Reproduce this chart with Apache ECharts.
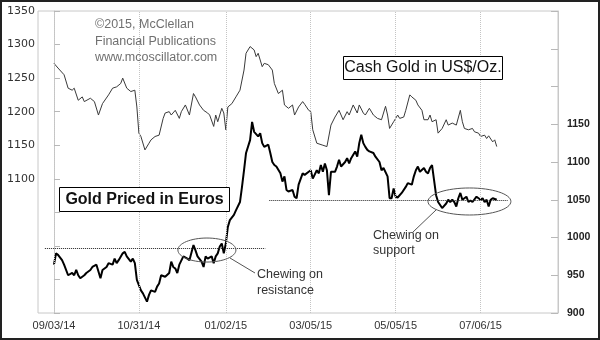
<!DOCTYPE html>
<html><head><meta charset="utf-8">
<script src="https://cdn.jsdelivr.net/npm/echarts@6/dist/echarts.min.js"></script>
<style>html,body{margin:0;padding:0;background:#fff}#c{width:600px;height:340px}</style>
</head><body><div id="c"></div>
<script>
// x = trading-day index counted from 09/03/14
const tickDays = [0, 42, 85, 127, 169, 211];
const tickLabels = ['09/03/14', '10/31/14', '01/02/15', '03/05/15', '05/05/15', '07/06/15'];

// Cash gold, US$/oz (left axis)
const usdDays = [0,2,5,7,9,10,12,14,15,18,20,22,24,27,29,31,33,34,36,38,40,41,42,43,45,47,48,50,52,54,55,57,58,60,62,63,65,67,69,70,72,74,76,77,79,80,81,83,84,85,86,88,90,92,94,95,97,99,100,101,103,104,106,108,109,111,113,114,116,118,119,121,123,124,126,127,128,130,133,135,137,139,141,143,145,146,148,150,151,153,154,156,158,160,162,164,165,166,168,170,171,173,174,176,177,179,180,182,183,185,186,187,189,190,192,194,195,197,199,201,202,203,205,207,208,210,211,213,214,215,217,218,219];
const usdPrices = [1272,1265,1255,1235,1232,1235,1217,1222,1215,1220,1215,1195,1212,1225,1235,1237,1242,1250,1235,1230,1232,1207,1168,1163,1143,1153,1158,1163,1165,1190,1198,1200,1195,1202,1190,1200,1210,1195,1227,1222,1210,1202,1198,1195,1178,1195,1185,1205,1198,1173,1207,1212,1222,1232,1262,1287,1297,1292,1282,1287,1267,1272,1270,1262,1242,1227,1232,1210,1205,1210,1195,1207,1215,1211,1202,1200,1173,1153,1150,1148,1180,1192,1202,1188,1200,1195,1210,1198,1210,1198,1195,1205,1195,1190,1188,1208,1195,1175,1185,1195,1190,1192,1202,1225,1222,1217,1210,1202,1188,1188,1195,1185,1188,1168,1175,1188,1180,1183,1180,1202,1185,1175,1173,1175,1170,1168,1163,1165,1160,1164,1155,1158,1148];

// Gold priced in euros (right axis)
const eurDays = [0,1,2,4,5,7,9,10,11,12,13,15,16,18,19,21,22,23,24,26,27,29,30,31,32,34,35,36,38,39,40,41,43,44,46,47,48,50,51,52,53,55,57,58,59,60,61,62,64,66,67,69,70,71,73,74,75,76,78,79,80,81,82,83,84,85,86,87,89,90,92,93,94,95,97,98,99,101,102,103,104,106,107,108,109,110,112,113,114,115,116,118,119,120,121,123,124,126,127,128,130,131,132,133,134,135,136,137,139,140,141,142,144,145,146,147,149,150,151,152,153,154,155,156,158,159,161,162,163,165,166,167,168,169,170,172,174,175,177,178,179,180,181,183,184,185,186,187,188,189,190,191,192,194,195,196,197,198,199,200,201,202,204,205,206,207,209,210,211,212,213,214,215,216,217,219];
const eurPrices = [964,979,977,970,964,950,953,950,957,950,946,950,953,957,961,964,955,946,957,961,966,964,972,966,970,979,981,975,968,972,966,944,930,926,915,924,930,928,935,939,950,948,953,968,961,959,953,964,975,972,970,990,983,975,968,961,975,972,975,966,975,979,988,992,979,992,1014,1023,1030,1036,1047,1067,1089,1112,1129,1153,1140,1134,1138,1125,1120,1123,1112,1100,1096,1094,1085,1074,1081,1063,1061,1063,1054,1052,1070,1085,1083,1087,1089,1078,1089,1085,1096,1087,1098,1089,1056,1087,1087,1094,1103,1094,1100,1105,1098,1105,1114,1107,1125,1136,1125,1120,1116,1114,1112,1107,1100,1089,1092,1081,1052,1052,1065,1054,1053,1059,1067,1072,1070,1081,1089,1094,1087,1092,1087,1085,1092,1096,1076,1056,1047,1043,1039,1045,1050,1047,1050,1047,1041,1052,1059,1050,1054,1047,1049,1047,1054,1052,1050,1052,1047,1050,1041,1050,1052,1050];

// annotation levels (euro scale)
const resistanceLevel = 986, resistanceSpan = [-4.5, 104.5];
const supportLevel = 1050, supportSpan = [106.5, 224.5];
const resistanceBox = [61.3, 90, 967.5, 999.3];   // day min/max, value min/max
const supportBox = [185, 226, 1029.8, 1065.6];

const FONT = 'Liberation Sans';
const chart = echarts.init(document.getElementById('c'), null, {renderer: 'canvas'});

function pairs(d, v) { return d.map((x, i) => [x, v[i]]); }

const option = {
  animation: false,
  backgroundColor: '#fff',
  grid: {left: 38, right: 42, top: 11, bottom: 27, show: true, borderColor: '#c8c8c8', borderWidth: 1, outerBoundsMode: 'none'},
  xAxis: {
    type: 'value', min: -7.9, max: 249.3,
    axisLine: {show: false},
    axisTick: {show: false},
    splitLine: {show: false},
    axisLabel: {
      customValues: tickDays,
      formatter: v => { const i = tickDays.indexOf(Math.round(v)); return i >= 0 ? tickLabels[i] : ''; },
      fontFamily: FONT, fontSize: 11, color: '#333', margin: 7
    }
  },
  yAxis: [
    {
      type: 'value', position: 'left', min: 900, max: 1350, interval: 50,
      axisLine: {show: true, lineStyle: {color: '#c8c8c8'}},
      axisTick: {show: true, inside: true, length: 6, lineStyle: {color: '#b8b8b8'}},
      splitLine: {show: false},
      axisLabel: {formatter: v => v >= 1100 ? String(v) : '', fontFamily: 'DejaVu Sans', fontSize: 11, color: '#333', margin: 3}
    },
    {
      type: 'value', position: 'right', min: 900, max: 1300, interval: 50,
      axisLine: {show: true, lineStyle: {color: '#c8c8c8'}},
      axisTick: {show: true, inside: true, length: 7, lineStyle: {color: '#b8b8b8'}},
      splitLine: {show: false},
      axisLabel: {formatter: v => v <= 1150 ? String(v) : '', fontFamily: FONT, fontSize: 10.5, fontWeight: 'bold', color: '#222', margin: 9}
    }
  ],
  series: [
    {
      type: 'line', data: [], yAxisIndex: 0, z: 1, silent: true,
      markLine: {
        silent: true, symbol: ['none', 'none'], label: {show: false},
        lineStyle: {type: 'dotted', color: '#c4c4c4', width: 1},
        data: tickDays.map(d => ({xAxis: d}))
      }
    },
    {
      name: 'USD', type: 'line', yAxisIndex: 0, data: pairs(usdDays, usdPrices),
      showSymbol: false, symbol: 'none', z: 3,
      lineStyle: {color: '#3a3a3a', width: 1}
    },
    {
      name: 'EUR', type: 'line', yAxisIndex: 1, data: pairs(eurDays, eurPrices),
      showSymbol: false, symbol: 'none', z: 4,
      lineStyle: {color: '#000', width: 2},
      markLine: {
        silent: true, symbol: ['none', 'none'], label: {show: false},
        lineStyle: {type: 'dotted', color: '#222', width: 1},
        data: [
          [{coord: [resistanceSpan[0], resistanceLevel]}, {coord: [resistanceSpan[1], resistanceLevel]}],
          [{coord: [supportSpan[0], supportLevel]}, {coord: [supportSpan[1], supportLevel]}]
        ]
      }
    }
  ]
};
chart.setOption(option);

function ell(box) {
  const p1 = chart.convertToPixel({xAxisIndex: 0, yAxisIndex: 1}, [box[0], box[2]]);
  const p2 = chart.convertToPixel({xAxisIndex: 0, yAxisIndex: 1}, [box[1], box[3]]);
  return {cx: (p1[0] + p2[0]) / 2, cy: (p1[1] + p2[1]) / 2, rx: Math.abs(p2[0] - p1[0]) / 2, ry: Math.abs(p2[1] - p1[1]) / 2};
}
const txt = (x, y, text, font, fill, align) => ({type: 'text', x, y, z: 100, style: {text, font, fill, align: align || 'left', verticalAlign: 'middle'}});

chart.setOption({
  graphic: [
    {type: 'rect', z: 100, shape: {x: 1, y: 1, width: 598, height: 338}, style: {fill: 'none', stroke: '#222', lineWidth: 2}},
    txt(95, 25, '\u00a92015, McClellan', '12.5px ' + FONT, '#707070'),
    txt(95, 42, 'Financial Publications', '12.5px ' + FONT, '#707070'),
    txt(95, 58, 'www.mcoscillator.com', '12.5px ' + FONT, '#707070'),
    {type: 'rect', z: 100, shape: {x: 343.5, y: 56.5, width: 159, height: 23}, style: {fill: '#fff', stroke: '#000', lineWidth: 1}},
    txt(423, 68, 'Cash Gold in US$/Oz.', '16px ' + FONT, '#111', 'center'),
    {type: 'rect', z: 100, shape: {x: 59.5, y: 187.5, width: 170, height: 24}, style: {fill: '#fff', stroke: '#000', lineWidth: 1}},
    txt(144.5, 200, 'Gold Priced in Euros', 'bold 16px ' + FONT, '#111', 'center'),
    {type: 'ellipse', z: 100, shape: ell(resistanceBox), style: {fill: 'none', stroke: '#555', lineWidth: 1}},
    {type: 'ellipse', z: 100, shape: ell(supportBox), style: {fill: 'none', stroke: '#555', lineWidth: 1}},
    {type: 'line', z: 100, shape: {x1: 230, y1: 258, x2: 255, y2: 273}, style: {stroke: '#555', lineWidth: 1}},
    {type: 'line', z: 100, shape: {x1: 413, y1: 232, x2: 436, y2: 210}, style: {stroke: '#555', lineWidth: 1}},
    txt(257, 275, 'Chewing on', '12.5px ' + FONT, '#333'),
    txt(257, 291, 'resistance', '12.5px ' + FONT, '#333'),
    txt(373, 236, 'Chewing on', '12.5px ' + FONT, '#333'),
    txt(373, 251, 'support', '12.5px ' + FONT, '#333')
  ]
});
</script></body></html>
